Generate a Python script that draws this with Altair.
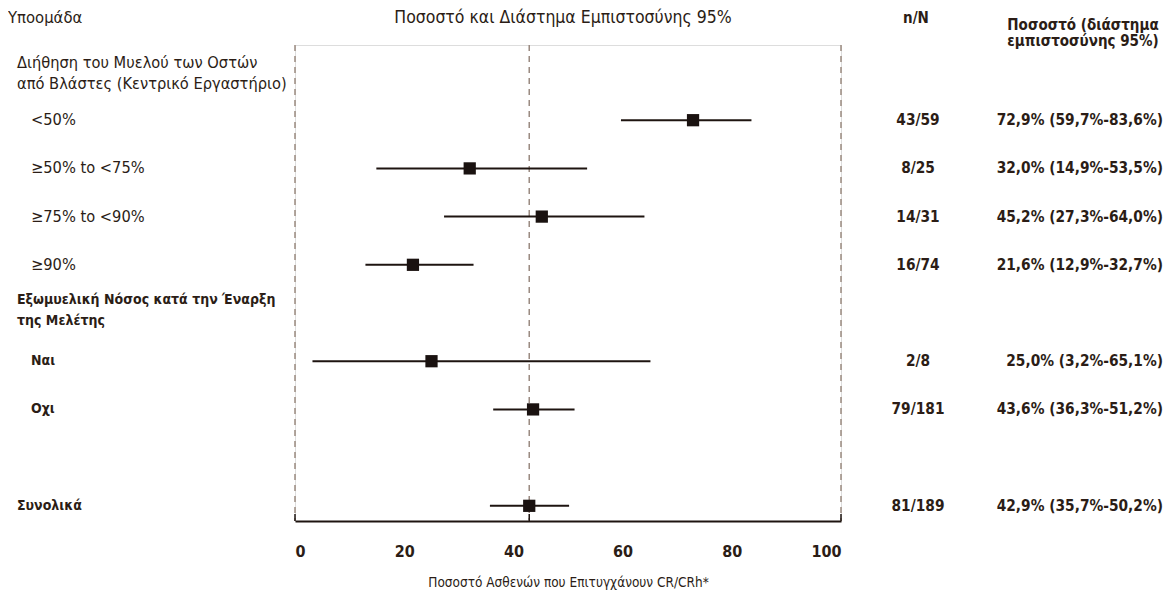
import altair as alt
import pandas as pd

# ---- data ----
labels = [
    "Διήθηση του Μυελού των Οστών\nαπό Βλάστες (Κεντρικό Εργαστήριο)",
    "<50%",
    "≥50% to <75%",
    "≥75% to <90%",
    "≥90%",
    "Εξωμυελική Νόσος κατά την Έναρξη\nτης Μελέτης",
    "Ναι",
    "Οχι",
    "",
    "Συνολικά",
]
level = [0, 1, 1, 1, 1, 0, 1, 1, 2, 2]   # 0 = group header, 1 = subgroup, 2 = overall
bold = [0, 0, 0, 0, 0, 1, 1, 1, 0, 1]
estimate = [None, 72.9, 32.0, 45.2, 21.6, None, 25.0, 43.6, None, 42.9]
lower = [None, 59.7, 14.9, 27.3, 12.9, None, 3.2, 36.3, None, 35.7]
upper = [None, 83.6, 53.5, 64.0, 32.7, None, 65.1, 51.2, None, 50.2]
n_over_N = ["", "43/59", "8/25", "14/31", "16/74", "", "2/8", "79/181", "", "81/189"]
ci_text = ["", "72,9% (59,7%-83,6%)", "32,0% (14,9%-53,5%)", "45,2% (27,3%-64,0%)",
           "21,6% (12,9%-32,7%)", "", "25,0% (3,2%-65,1%)", "43,6% (36,3%-51,2%)",
           "", "42,9% (35,7%-50,2%)"]
ref_lines = [0, 42.9, 100]
x_ticks = [0, 20, 40, 60, 80, 100]

df = pd.DataFrame({
    "row": list(range(len(labels))),
    "label": labels,
    "level": level,
    "bold": bold,
    "est": estimate,
    "lo": lower,
    "hi": upper,
    "nN": n_over_N,
    "ci": ci_text,
})
refs = pd.DataFrame({"x": ref_lines})

FONT = "DejaVu Sans Condensed, Liberation Sans Narrow, sans-serif"
TXT = "#2b1d16"
W, H = 546, 476

xs = alt.Scale(domain=[0, 100], nice=False, zero=False)
ys = alt.Scale(domain=[-0.56, 9.315], reverse=True, nice=False, zero=False)

base = alt.Chart(df)

dashed = alt.Chart(refs).mark_rule(color="#9a8a80", strokeDash=[6, 5], strokeWidth=1.5).encode(
    x=alt.X("x:Q", scale=xs,
            axis=alt.Axis(values=x_ticks, ticks=False, grid=False, domainColor="#1e1410",
                          domainWidth=2, labelFont=FONT, labelFontSize=16, labelFontWeight="bold",
                          labelColor=TXT, labelPadding=22, title="Ποσοστό Ασθενών που Επιτυγχάνουν CR/CRh*",
                          titleFont=FONT, titleFontSize=13.5, titleFontWeight="normal", titleColor=TXT,
                          titlePadding=16))
)
upticks = alt.Chart(refs).mark_rule(color="#1e1410", strokeWidth=1.5).encode(
    x=alt.X("x:Q", scale=xs), y=alt.value(H - 7), y2=alt.value(H)
)

pts = base.transform_filter("datum.est != null")
ci = pts.mark_rule(color="#1e1410", strokeWidth=2).encode(
    x=alt.X("lo:Q", scale=xs), x2="hi:Q",
    y=alt.Y("row:Q", scale=ys, axis=None),
)
sq = pts.mark_point(shape="square", filled=True, size=150, color="#1a1210", opacity=1).encode(
    x=alt.X("est:Q", scale=xs),
    y=alt.Y("row:Q", scale=ys, axis=None),
)

def txt(data, field, xpix, align, size, **kw):
    return data.mark_text(font=FONT, fontSize=size, color=TXT, align=align, baseline="middle",
                          lineBreak="\n", **kw).encode(
        x=alt.value(xpix), y=alt.Y("row:Q", scale=ys, axis=None), text=f"{field}:N")

lab0n = txt(base.transform_filter("datum.level == 0 && datum.bold == 0"), "label", -278, "left", 16.3, lineHeight=21, dy=-9)
lab0b = txt(base.transform_filter("datum.level == 0 && datum.bold == 1"), "label", -278, "left", 14, lineHeight=21, fontWeight="bold", dy=-13)
lab2b = txt(base.transform_filter("datum.level == 2 && datum.bold == 1"), "label", -278, "left", 14, fontWeight="bold")
lab1n = txt(base.transform_filter("datum.level == 1 && datum.bold == 0"), "label", -264, "left", 16.3)
lab1b = txt(base.transform_filter("datum.level == 1 && datum.bold == 1"), "label", -264, "left", 14, fontWeight="bold")
nn = txt(base, "nN", 623, "center", 15.3, fontWeight="bold")
cit = txt(base, "ci", 868, "right", 15.3, fontWeight="bold")

hdr = alt.Chart(pd.DataFrame({
    "t": ["Υποομάδα", "Ποσοστό και Διάστημα Εμπιστοσύνης 95%", "n/N"],
    "k": [0, 1, 2],
}))
h1 = hdr.transform_filter("datum.k == 0").mark_text(
    font=FONT, fontSize=16.5, color=TXT, align="left", baseline="middle").encode(
    x=alt.value(-287), y=alt.value(-27), text="t:N")
h2 = hdr.transform_filter("datum.k == 1").mark_text(
    font=FONT, fontSize=17.5, color=TXT, align="center", baseline="middle").encode(
    x=alt.value(268), y=alt.value(-27), text="t:N")
h3 = hdr.transform_filter("datum.k == 2").mark_text(
    font=FONT, fontSize=15, color=TXT, fontWeight="bold", align="center", baseline="middle").encode(
    x=alt.value(621), y=alt.value(-27), text="t:N")
h4 = alt.Chart(pd.DataFrame({"t": ["Ποσοστό (διάστημα\nεμπιστοσύνης 95%)"]})).mark_text(
    font=FONT, fontSize=15, color=TXT, fontWeight="bold", align="center", baseline="middle",
    lineBreak="\n", lineHeight=16).encode(
    x=alt.value(788), y=alt.value(-20), text="t:N")

chart = alt.layer(dashed, upticks, ci, sq, lab0n, lab0b, lab2b, lab1n, lab1b, nn, cit, h1, h2, h3, h4).properties(
    width=W, height=H,
    padding={"left": 287, "top": 37, "right": 323, "bottom": 74},
    autosize=alt.AutoSizeParams(type="none"),
).configure_view(stroke=None).configure(background="white")

chart.save("out.html", embed_options={"renderer": "svg", "actions": False})
